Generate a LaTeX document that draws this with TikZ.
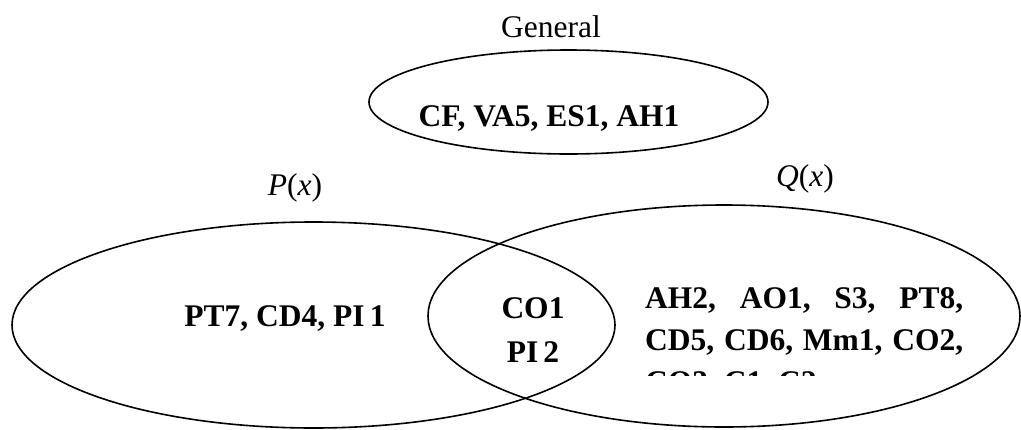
\documentclass[tikz,border=0pt]{standalone}
\usepackage{fontspec}
\setmainfont{Liberation Serif}
\usetikzlibrary{positioning}
\definecolor{vennInk}{HTML}{000000}
\tikzset{
  every picture/.style={font=\fontsize{31.5}{42}\selectfont, text=vennInk},
  venn set/.style={draw=vennInk, line width=1.6pt},
  venn name/.style={inner sep=0pt, anchor=base},
  venn item/.style={inner sep=0pt, anchor=base,
    font=\fontsize{31.5}{42}\selectfont\bfseries},
  venn row/.style={venn item, anchor=base west}
}

\begin{document}
\begin{tikzpicture}[x=1pt,y=-1pt]
  \useasboundingbox (0,0) rectangle (1021,429);
  % the three sets
  \draw[venn set] (568.5,102) ellipse [x radius=199.5, y radius=52];
  \draw[venn set] (313.5,325) ellipse [x radius=301.5, y radius=103];
  \draw[venn set] (724,316) ellipse [x radius=296, y radius=111];
  % set names
  \node[venn name] (general) at (551,37) {General};
  \node[venn name] (pname) at (295,195) {\textit{P}(\textit{x})};
  \node[venn name] (qname) at (805,186) {\textit{Q}(\textit{x})};
  % members
  \node[venn item] (generalitems) at (549,126) {CF, VA5, ES1, AH1};
  \node[venn item] (ponly) at (285,326) {PT7, CD4, PI\,1};
  \node[venn item] (both1) at (533,318) {CO1};
  \node[venn item] (both2) at (533,362) {PI\,2};
  \node[venn row] (qrow1) at (645,308) {\makebox[318pt][s]{AH2, AO1, S3, PT8,}};
  \node[venn row] (qrow2) at (645,350) {\makebox[318pt][s]{CD5, CD6, Mm1, CO2,}};
  \begin{scope}
    \clip (640,360) rectangle (980,375);
    \node[venn row] (qrow3) at (645,392) {CO3, C1, C2};
  \end{scope}
\end{tikzpicture}
\end{document}
